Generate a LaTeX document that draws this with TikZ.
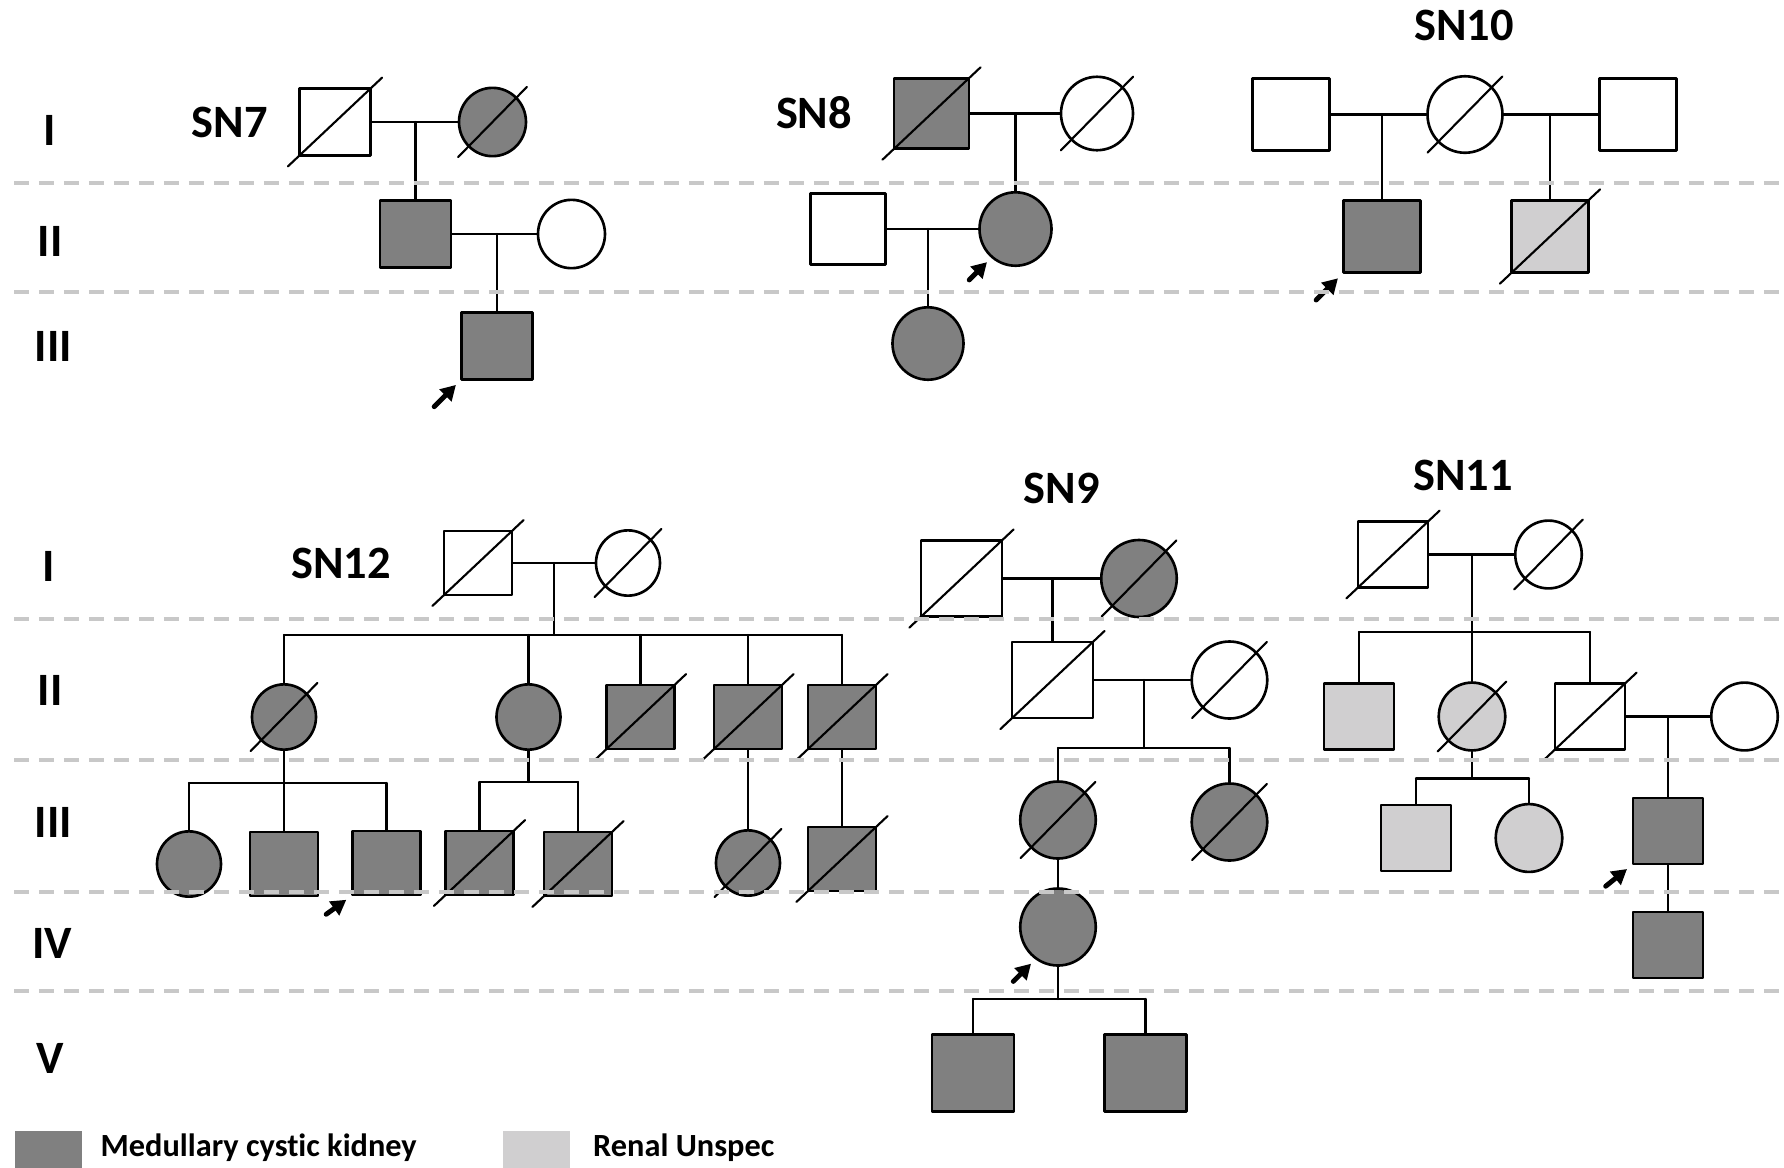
\documentclass[tikz,border=0pt]{standalone}
\usepackage{fontspec}
\setmainfont{Carlito}[Ligatures=NoCommon]
\usepackage{tikz}
\usepackage{xcolor}
\usetikzlibrary{arrows}
\usetikzlibrary{arrows.meta,shapes.geometric,calc}
\definecolor{affgray}{RGB}{128,128,128}
\definecolor{rengray}{RGB}{208,207,208}
\definecolor{dashgray}{RGB}{200,200,200}

\begin{document}
\begin{tikzpicture}[line cap=round,line join=round,>={Triangle[length=1.5mm,width=1.65mm]},x=0.1mm,y=-0.1mm,
        male/.style={draw,rectangle,line width=0.75pt,inner sep=0pt,fill=white,minimum width=#1,minimum height=0.94*#1},
        female/.style={draw,ellipse,line width=0.75pt,inner sep=0pt,fill=white,minimum width=#1,minimum height=1.02*#1},
        aff/.style={fill=affgray},
        ren/.style={fill=rengray},
        dead/.style={append after command={(\tikzlastnode.south west) edge[line width=0.6pt,shorten <=-4pt,shorten >=-4pt] (\tikzlastnode.north east)}},
        proband/.style={->,line width=1.4pt,shorten >=0.6mm},
        genline/.style={color=dashgray,line width=1.1pt,line cap=butt,dash pattern=on 1.5mm off 1mm},
        famname/.style={inner sep=0pt,font=\fontsize{13.2}{16}\selectfont\bfseries},
        keytext/.style={inner sep=0pt,anchor=base west,font=\fontsize{9.2}{11}\selectfont\bfseries}]
                \useasboundingbox (0,0) rectangle (1784,1167);
                \node [famname] (r1) at (50,130) {I};
                \node [famname] (r2) at (50,241) {II};
                \node [famname] (r3) at (53.5,346) {III};
                \node [famname] (r4) at (49,566) {I};
                \node [famname] (r5) at (50,690) {II};
                \node [famname] (r6) at (53.5,822) {III};
                \node [famname] (r7) at (52.5,943.5) {IV};
                \node [famname] (r8) at (50,1058) {V};

                \node [famname] (t7) at (229.5,122) {SN7};
                \node [male=7.1mm,dead] (sn7a) at (335,122) {};
                \node [female=6.7mm,aff,dead] (sn7b) at (492.5,122) {};
                \node [male=7.1mm,aff] (sn7c) at (415.5,234) {};
                \node [female=6.7mm] (sn7d) at (571.5,234) {};
                \node [male=7.1mm,aff] (sn7e) at (497,346) {};
                \draw [line width=0.6pt] (sn7a)-- (sn7b);
                \draw [line width=0.6pt] (sn7c)-- (sn7c |- sn7a);
                \draw [line width=0.6pt] (sn7c)-- (sn7d);
                \draw [line width=0.6pt] (sn7e)-- (sn7e |- sn7c);
                \draw [proband] ($(sn7e.south west)+(-26,26)$)-- (sn7e.south west);

                \node [famname] (t8) at (814,113) {SN8};
                \node [male=7.5mm,aff,dead] (sn8a) at (931.5,113.5) {};
                \node [female=7.2mm,dead] (sn8b) at (1097,113.5) {};
                \node [male=7.5mm] (sn8c) at (848,229) {};
                \node [female=7.2mm,aff] (sn8d) at (1015.5,229) {};
                \node [female=7.1mm,aff] (sn8e) at (928,343.5) {};
                \draw [line width=0.6pt] (sn8a)-- (sn8b);
                \draw [line width=0.6pt] (sn8d)-- (sn8d |- sn8a);
                \draw [line width=0.6pt] (sn8c)-- (sn8d);
                \draw [line width=0.6pt] (sn8e)-- (sn8e |- sn8c);
                \draw [proband] ($(sn8d.230)+(-22,22)$)-- (sn8d.230);

                \node [famname] (t10) at (1464,25) {SN10};
                \node [male=7.7mm] (sn10a) at (1291,114.5) {};
                \node [female=7.5mm,dead] (sn10b) at (1465,114.5) {};
                \node [male=7.7mm] (sn10c) at (1638,114.5) {};
                \node [male=7.7mm,aff] (sn10d) at (1382,236.5) {};
                \node [male=7.7mm,ren,dead] (sn10e) at (1550,236.5) {};
                \draw [line width=0.6pt] (sn10a)-- (sn10b);
                \draw [line width=0.6pt] (sn10b)-- (sn10c);
                \draw [line width=0.6pt] (sn10d)-- (sn10d |- sn10a);
                \draw [line width=0.6pt] (sn10e)-- (sn10e |- sn10b);
                \draw [proband] ($(sn10d.south west)+(-26,26)$)-- (sn10d.south west);

                \node [famname] (t12) at (341,563) {SN12};
                \node [male=6.8mm,dead] (sn12a) at (478,563) {};
                \node [female=6.4mm,dead] (sn12b) at (628,563) {};
                \coordinate (s12a) at (554,635);
                \node [female=6.4mm,aff,dead] (sn12c) at (284,717) {};
                \node [female=6.4mm,aff] (sn12d) at (528.5,717) {};
                \node [male=6.8mm,aff,dead] (sn12e) at (640.5,717) {};
                \node [male=6.8mm,aff,dead] (sn12f) at (748,717) {};
                \node [male=6.8mm,aff,dead] (sn12g) at (842,717) {};
                \coordinate (s12b) at (284,783);
                \coordinate (s12c) at (528.5,782);
                \node [female=6.4mm,aff] (sn12h) at (189,864) {};
                \node [male=6.8mm,aff] (sn12i) at (284,864) {};
                \node [male=6.8mm,aff] (sn12j) at (386.5,863) {};
                \node [male=6.8mm,aff,dead] (sn12k) at (479.5,863) {};
                \node [male=6.8mm,aff,dead] (sn12l) at (578,864) {};
                \node [female=6.4mm,aff,dead] (sn12m) at (748,863) {};
                \node [male=6.8mm,aff,dead] (sn12n) at (842,859) {};
                \draw [line width=0.6pt] (sn12a)-- (sn12b);
                \draw [line width=0.6pt] (s12a)-- (s12a |- sn12a);
                \draw [line width=0.6pt] (sn12c |- s12a)-- (sn12g |- s12a);
                \draw [line width=0.6pt] (sn12c)-- (sn12c |- s12a);
                \draw [line width=0.6pt] (sn12d)-- (sn12d |- s12a);
                \draw [line width=0.6pt] (sn12e)-- (sn12e |- s12a);
                \draw [line width=0.6pt] (sn12f)-- (sn12f |- s12a);
                \draw [line width=0.6pt] (sn12g)-- (sn12g |- s12a);
                \draw [line width=0.6pt] (sn12c)-- (s12b);
                \draw [line width=0.6pt] (sn12h |- s12b)-- (sn12j |- s12b);
                \draw [line width=0.6pt] (sn12h)-- (sn12h |- s12b);
                \draw [line width=0.6pt] (sn12i)-- (s12b);
                \draw [line width=0.6pt] (sn12j)-- (sn12j |- s12b);
                \draw [line width=0.6pt] (sn12d)-- (s12c);
                \draw [line width=0.6pt] (sn12k |- s12c)-- (sn12l |- s12c);
                \draw [line width=0.6pt] (sn12k)-- (sn12k |- s12c);
                \draw [line width=0.6pt] (sn12l)-- (sn12l |- s12c);
                \draw [line width=0.6pt] (sn12f)-- (sn12m);
                \draw [line width=0.6pt] (sn12g)-- (sn12n);
                \draw [proband] ($(sn12j.south west)+(-25,18)$)-- (sn12j.south west);

                \node [famname] (t9) at (1061.5,488) {SN9};
                \node [male=8.1mm,dead] (sn9a) at (961.5,578.5) {};
                \node [female=7.55mm,aff,dead] (sn9b) at (1139,578.5) {};
                \node [male=8.1mm,dead] (sn9c) at (1052.5,680) {};
                \node [female=7.55mm,dead] (sn9d) at (1229.5,680) {};
                \coordinate (s9a) at (1144,748);
                \node [female=7.55mm,aff,dead] (sn9e) at (1058,820) {};
                \node [female=7.55mm,aff,dead] (sn9f) at (1229.5,822) {};
                \node [female=7.55mm,aff] (sn9g) at (1058,927) {};
                \coordinate (s9b) at (1058,999);
                \node [male=8.2mm,aff] (sn9h) at (973,1073) {};
                \node [male=8.2mm,aff] (sn9i) at (1145.5,1073) {};
                \draw [line width=0.6pt] (sn9a)-- (sn9b);
                \draw [line width=0.6pt] (sn9c)-- (sn9c |- sn9a);
                \draw [line width=0.6pt] (sn9c)-- (sn9d);
                \draw [line width=0.6pt] (s9a)-- (s9a |- sn9c);
                \draw [line width=0.6pt] (sn9e |- s9a)-- (sn9f |- s9a);
                \draw [line width=0.6pt] (sn9e)-- (sn9e |- s9a);
                \draw [line width=0.6pt] (sn9f)-- (sn9f |- s9a);
                \draw [line width=0.6pt] (sn9e)-- (sn9g);
                \draw [line width=0.6pt] (sn9g)-- (s9b);
                \draw [line width=0.6pt] (sn9h |- s9b)-- (sn9i |- s9b);
                \draw [line width=0.6pt] (sn9h)-- (sn9h |- s9b);
                \draw [line width=0.6pt] (sn9i)-- (sn9i |- s9b);
                \draw [proband] ($(sn9g.235)+(-22,22)$)-- (sn9g.235);

                \node [famname] (t11) at (1463,475) {SN11};
                \node [male=7.0mm,dead] (sn11a) at (1393,554.5) {};
                \node [female=6.65mm,dead] (sn11b) at (1548.5,554.5) {};
                \coordinate (s11a) at (1472,632);
                \node [male=7.0mm,ren] (sn11c) at (1359,716.5) {};
                \node [female=6.65mm,ren,dead] (sn11d) at (1472,716.5) {};
                \node [male=7.0mm,dead] (sn11e) at (1590,716.5) {};
                \node [female=6.65mm] (sn11f) at (1744.5,716.5) {};
                \coordinate (s11b) at (1472,778.5);
                \node [male=7.0mm,ren] (sn11g) at (1416,838) {};
                \node [female=6.65mm,ren] (sn11h) at (1529,838) {};
                \node [male=7.0mm,aff] (sn11i) at (1668,831) {};
                \node [male=7.0mm,aff] (sn11j) at (1668,945) {};
                \draw [line width=0.6pt] (sn11a)-- (sn11b);
                \draw [line width=0.6pt] (s11a)-- (s11a |- sn11a);
                \draw [line width=0.6pt] (sn11c |- s11a)-- (sn11e |- s11a);
                \draw [line width=0.6pt] (sn11c)-- (sn11c |- s11a);
                \draw [line width=0.6pt] (sn11d)-- (s11a);
                \draw [line width=0.6pt] (sn11e)-- (sn11e |- s11a);
                \draw [line width=0.6pt] (sn11e)-- (sn11f);
                \draw [line width=0.6pt] (sn11i)-- (sn11i |- sn11e);
                \draw [line width=0.6pt] (sn11d)-- (s11b);
                \draw [line width=0.6pt] (sn11g |- s11b)-- (sn11h |- s11b);
                \draw [line width=0.6pt] (sn11g)-- (sn11g |- s11b);
                \draw [line width=0.6pt] (sn11h)-- (sn11h |- s11b);
                \draw [line width=0.6pt] (sn11i)-- (sn11j);
                \draw [proband] ($(sn11i.south west)+(-26,21)$)-- (sn11i.south west);

                \draw [genline] (14,183)-- (1784,183);
                \draw [genline] (14,292)-- (1784,292);
                \draw [genline] (14,619)-- (1784,619);
                \draw [genline] (14,760)-- (1784,760);
                \draw [genline] (14,892)-- (1784,892);
                \draw [genline] (14,991)-- (1784,991);

                \node [fill=affgray,inner sep=0pt,anchor=north west,minimum width=6.7mm,minimum height=3.7mm] (k1) at (14,1130) {};
                \node [keytext] (k1t) at (100,1156.7) {Medullary cystic kidney};
                \node [fill=rengray,inner sep=0pt,anchor=north west,minimum width=6.7mm,minimum height=3.7mm] (k2) at (502,1130) {};
                \node [keytext] (k2t) at (592.5,1156.7) {Renal Unspec};
\end{tikzpicture}
\end{document}
